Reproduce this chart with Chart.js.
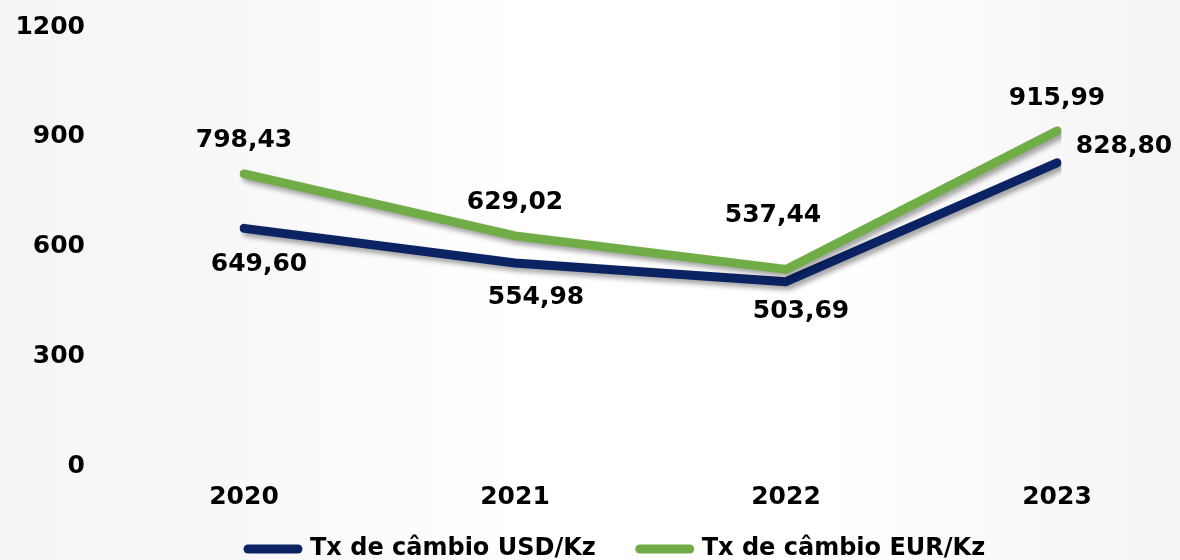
<!DOCTYPE html>
<html><head><meta charset="utf-8">
<script src="https://cdn.jsdelivr.net/npm/chart.js@4.4.0/dist/chart.umd.min.js"></script>
<style>html,body{margin:0;padding:0;background:#fff}#wrap{width:1180px;height:560px;position:relative}</style>
</head><body><div id="wrap"><canvas id="c"></canvas></div>
<script>
const categories = ['2020', '2021', '2022', '2023'];
const usdValues = [649.60, 554.98, 503.69, 828.80];
const eurValues = [798.43, 629.02, 537.44, 915.99];
const yTicks = [0, 300, 600, 900, 1200];
const seriesNames = ['Tx de câmbio USD/Kz', 'Tx de câmbio EUR/Kz'];

const FONT = '"DejaVu Sans", sans-serif';
const navy = '#0b2263';
const green = '#70ad47';
const LEGEND_PAD = 44;

// label offsets (style), per dataset/point
const labelOffsets = [
  [[15, 36], [21, 35], [15, 30], [67, -16]],
  [[0, -33], [0, -33], [-13, -54], [0, -32]]
];

const fmt = v => v.toFixed(2).replace('.', ',');

const bgPlugin = {
  id: 'bg',
  beforeDraw(chart) {
    const ctx = chart.ctx, w = chart.width, h = chart.height;
    ctx.save();
    const g = ctx.createLinearGradient(0, 0, w, 0);
    g.addColorStop(0, '#f5f5f5');
    g.addColorStop(0.2, '#f8f8f8');
    g.addColorStop(0.45, '#ffffff');
    g.addColorStop(0.7, '#ffffff');
    g.addColorStop(1, '#f4f4f4');
    ctx.fillStyle = g;
    ctx.fillRect(0, 0, w, h);
    ctx.restore();
  }
};

const legendPlace = {
  id: 'legendPlace',
  beforeLayout(chart) {
    const lg = chart.legend;
    if (lg && !lg._fixedFit) {
      const orig = lg.fit.bind(lg);
      lg.fit = function () { orig(); this.height = 48; };
      lg._fixedFit = true;
    }
  },
  afterLayout(chart) {
    const lg = chart.legend;
    if (!lg) return;
    const w = lg.right - lg.left;
    lg.left = 248 - LEGEND_PAD; lg.right = lg.left + w;
    lg.top = 549 - LEGEND_PAD - 12; lg.bottom = chart.height;
    lg.height = lg.bottom - lg.top;
  }
};

const shadowPlugin = {
  id: 'lineShadow',
  beforeDatasetDraw(chart) {
    const ctx = chart.ctx;
    ctx.save();
    ctx.shadowColor = 'rgba(0,0,0,0.35)';
    ctx.shadowBlur = 5;
    ctx.shadowOffsetX = 3;
    ctx.shadowOffsetY = 4;
  },
  afterDatasetDraw(chart) {
    chart.ctx.restore();
  }
};

const labelPlugin = {
  id: 'valueLabels',
  afterDatasetsDraw(chart) {
    const ctx = chart.ctx;
    ctx.save();
    ctx.font = 'bold 25px ' + FONT;
    ctx.fillStyle = '#000';
    ctx.textAlign = 'center';
    ctx.textBaseline = 'middle';
    chart.data.datasets.forEach((ds, di) => {
      const meta = chart.getDatasetMeta(di);
      meta.data.forEach((pt, i) => {
        const off = labelOffsets[di][i];
        ctx.fillText(fmt(ds.data[i]), pt.x + off[0], pt.y + off[1]);
      });
    });
    ctx.restore();
  }
};

new Chart(document.getElementById('c'), {
  type: 'line',
  data: {
    labels: categories,
    datasets: [
      { label: seriesNames[0], data: usdValues, borderColor: navy, backgroundColor: navy, borderWidth: 9,
        pointRadius: 0, tension: 0, borderCapStyle: 'round', borderJoinStyle: 'round', order: 1 },
      { label: seriesNames[1], data: eurValues, borderColor: green, backgroundColor: green, borderWidth: 9,
        pointRadius: 0, tension: 0, borderCapStyle: 'round', borderJoinStyle: 'round', order: 0 }
    ]
  },
  options: {
    responsive: true,
    maintainAspectRatio: false,
    animation: false,
    layout: { padding: { left: 0, top: 27, right: 123, bottom: 0 } },
    plugins: {
      tooltip: { enabled: false },
      legend: {
        position: 'bottom',
        align: 'start',
        labels: {
          font: { family: FONT, size: 24, weight: 'bold' },
          color: '#000',
          usePointStyle: true,
          pointStyleWidth: 50,
          boxHeight: 9,
          padding: LEGEND_PAD,
          generateLabels(chart) {
            return chart.data.datasets.map((ds, i) => ({
              text: ds.label, fillStyle: ds.borderColor, strokeStyle: ds.borderColor,
              lineWidth: 9, lineCap: 'round', pointStyle: 'line',
              datasetIndex: i, hidden: false, fontColor: '#000'
            }));
          }
        }
      }
    },
    scales: {
      x: {
        offset: false,
        grid: { display: false, drawTicks: false },
        border: { display: false },
        afterFit(scale) { scale.height = 46; },
        ticks: { color: '#000', font: { family: FONT, size: 25, weight: 'bold' }, padding: 16, maxRotation: 0 }
      },
      y: {
        min: 0, max: 1200,
        grid: { display: false, drawTicks: false },
        border: { display: false },
        afterBuildTicks(scale) { scale.ticks = yTicks.map(v => ({ value: v })); },
        afterFit(scale) { scale.width = 244; scale.paddingTop = 0; scale.paddingBottom = 0; },
        ticks: { color: '#000', font: { family: FONT, size: 25, weight: 'bold' }, padding: 159,
                 callback: v => String(v) }
      }
    }
  },
  plugins: [bgPlugin, legendPlace, shadowPlugin, labelPlugin]
});
</script></body></html>
